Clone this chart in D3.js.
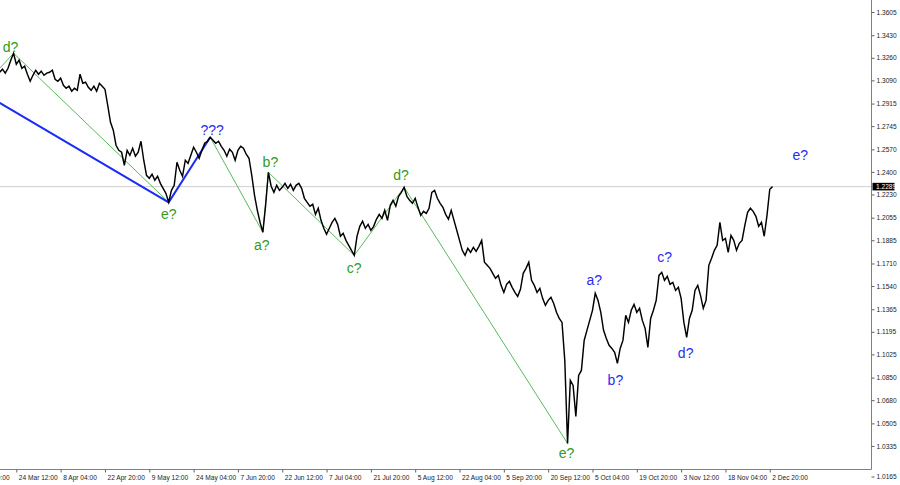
<!DOCTYPE html>
<html><head><meta charset="utf-8">
<script src="https://cdn.jsdelivr.net/npm/d3@7"></script>
<style>html,body{margin:0;padding:0;background:#fff;overflow:hidden}svg{display:block}</style>
</head><body><svg id="c" width="900" height="485"></svg>
<script>
// ---- data ----
const closes = [
1.3151,1.3174,1.3144,1.3181,1.3242,1.3294,1.3211,1.3242,1.3181,1.3196,
1.3136,1.3083,1.3128,1.3166,1.3136,1.3159,1.3128,1.3144,1.3151,1.3166,
1.3098,1.3083,1.3106,1.3053,1.3030,1.3046,1.3008,1.3030,1.3015,1.3136,
1.3068,1.3076,1.3038,1.3015,1.3046,1.3008,1.3068,1.3046,1.3023,1.2902,
1.2774,1.2714,1.2601,1.2563,1.2548,1.2450,1.2563,1.2525,1.2578,1.2518,
1.2548,1.2631,1.2488,1.2374,1.2352,1.2382,1.2337,1.2367,1.2314,1.2276,
1.2239,1.2171,1.2261,1.2299,1.2473,1.2412,1.2367,1.2488,1.2465,1.2525,
1.2586,1.2548,1.2503,1.2563,1.2616,1.2631,1.2661,1.2638,1.2616,1.2631,
1.2593,1.2563,1.2518,1.2571,1.2548,1.2488,1.2563,1.2593,1.2578,1.2533,
1.2503,1.2374,1.2224,1.2111,1.2020,1.1945,1.2148,1.2397,1.2292,1.2246,
1.2299,1.2261,1.2284,1.2314,1.2276,1.2307,1.2261,1.2299,1.2314,1.2276,
1.2201,1.2171,1.2141,1.2156,1.2080,1.2126,1.2035,1.1975,1.1930,1.1975,
1.2020,1.2050,1.2005,1.1915,1.1937,1.1884,1.1847,1.1809,1.1771,1.1915,
1.1990,1.2028,1.1975,1.2005,1.1960,1.1990,1.2043,1.2080,1.2050,1.2111,
1.2035,1.2148,1.2186,1.2141,1.2216,1.2246,1.2284,1.2216,1.2186,1.2163,
1.2201,1.2133,1.2073,1.2103,1.2088,1.2126,1.2246,1.2261,1.2201,1.2163,
1.2133,1.2080,1.2043,1.2111,1.2035,1.1960,1.1884,1.1809,1.1771,1.1824,
1.1794,1.1832,1.1801,1.1839,1.1884,1.1719,1.1696,1.1673,1.1636,1.1598,
1.1620,1.1545,1.1492,1.1553,1.1575,1.1530,1.1492,1.1462,1.1515,1.1636,
1.1673,1.1719,1.1583,1.1545,1.1492,1.1522,1.1447,1.1394,1.1432,1.1455,
1.1409,1.1342,1.1296,1.1266,1.0980,1.0354,1.0829,1.0791,1.0557,1.0866,
1.0904,1.1130,1.1206,1.1281,1.1357,1.1485,1.1432,1.1342,1.1206,1.1145,
1.1093,1.1070,1.1040,1.0957,1.1070,1.1130,1.1319,1.1266,1.1357,1.1402,
1.1342,1.1372,1.1281,1.1221,1.1078,1.1296,1.1357,1.1432,1.1620,1.1643,
1.1583,1.1613,1.1553,1.1568,1.1507,1.1530,1.1447,1.1266,1.1153,1.1296,
1.1357,1.1507,1.1545,1.1470,1.1372,1.1432,1.1696,1.1749,1.1809,1.1847,
1.2020,1.1884,1.1899,1.1794,1.1922,1.1884,1.1809,1.1862,1.1884,1.1997,
1.2096,1.2126,1.2103,1.2065,1.1990,1.2020,1.1915,1.2073,1.2269,1.2289
];
const priceTickLabels = ["1.3605","1.3430","1.3260","1.3090","1.2915","1.2745","1.2570","1.2400","1.2230","1.2055","1.1885","1.1710","1.1540","1.1365","1.1195","1.1025","1.0850","1.0680","1.0505","1.0335","1.0165"];
const timeTickLabels = ["9 Mar 20:00","24 Mar 12:00","8 Apr 04:00","22 Apr 20:00","9 May 12:00","24 May 04:00","7 Jun 20:00","22 Jun 12:00","7 Jul 04:00","21 Jul 20:00","5 Aug 12:00","22 Aug 04:00","5 Sep 20:00","20 Sep 12:00","5 Oct 04:00","19 Oct 20:00","3 Nov 12:00","18 Nov 04:00","2 Dec 20:00"];
const barsPerTimeTick = 64;
const firstSampleBar = 40;
const barsPerSample = 4;
const lastPrice = 1.2289;

// wave pivots (sample index; price from closes unless given)
const greenWaveA = [{idx:0, price:1.3181}, {idx:5}, {idx:61}];
const blueWave   = [{idx:0, price:1.2920}, {idx:61}, {idx:76}];
const greenWaveB = [{idx:76}, {idx:95}, {idx:97}, {idx:128}, {idx:146}, {idx:205}];

const waveLabelText  = ["d?","e?","???","a?","b?","c?","d?","e?","a?","b?","c?","d?","e?","?"];
const waveLabelIdx   = [5, 61, 76, 95, 97, 128, 146, 205, 215, 223, 239, 248, 289, 0];
const waveLabelPrice = [null,null,null,null,null,null,null,null,null,null,null,null,1.2488,1.2975];
const waveLabelGroup = ["g","g","b","g","g","g","g","g","b","b","b","b","b","t"];

// ---- drawing ----
const svg = d3.select("#c");
const plotR = 871, plotB = 469;
const x = d3.scaleLinear().domain([0, barsPerTimeTick]).range([-28, 16.32]);
const y = d3.scaleLinear().domain([1.0165, 1.3605]).range([468.5, 12]);
const sx = i => x(firstSampleBar + barsPerSample * i);

const colors = {g:"#329a22", b:"#2b2bf0", t:"#14a8a8"};
const font = "'Liberation Sans', Arial, sans-serif";

const clip = svg.append("defs").append("clipPath").attr("id","pc");
clip.append("rect").attr("x",0).attr("y",0).attr("width",plotR).attr("height",plotB);
const plot = svg.append("g").attr("clip-path","url(#pc)");

// last price line
plot.append("line").attr("x1",0).attr("x2",plotR)
  .attr("y1",y(lastPrice)).attr("y2",y(lastPrice))
  .attr("stroke","#cfcfcf").attr("stroke-width",1);

const pv = d => d.price !== undefined ? d.price : closes[d.idx];
const wline = d3.line().x(d => sx(d.idx)).y(d => y(pv(d)));

plot.append("path").datum(greenWaveA).attr("d",wline).attr("fill","none").attr("stroke","#5cb85c").attr("stroke-width",1);
plot.append("path").datum(greenWaveB).attr("d",wline).attr("fill","none").attr("stroke","#5cb85c").attr("stroke-width",1);
plot.append("path").datum(blueWave).attr("d",wline).attr("fill","none").attr("stroke","#1a2cf5").attr("stroke-width",2);

// price line
plot.append("path").datum(closes)
  .attr("d", d3.line().x((d,i)=>sx(i)).y(d=>y(d)))
  .attr("fill","none").attr("stroke","#000").attr("stroke-width",1.45).attr("stroke-linejoin","miter");

// wave labels
const labelOffsets = [[-3,-1],[0,17],[2,-2],[-1,18],[2,-5],[0,18],[-3,-7],[-1,15],[-1,-8],[-2,22],[3,-10],[-1,21],[0,0],[-4,0]];
const lbl = waveLabelText.map((t,k)=>({t, idx:waveLabelIdx[k], price:waveLabelPrice[k], g:waveLabelGroup[k], o:labelOffsets[k]}));
svg.append("g").selectAll("text").data(lbl).join("text")
  .attr("x", d => sx(d.idx) + d.o[0])
  .attr("y", d => y(d.price != null ? d.price : closes[d.idx]) + d.o[1])
  .attr("text-anchor","middle")
  .attr("font-family",font).attr("font-size",14)
  .attr("fill", d => colors[d.g])
  .text(d => d.t);

// axes frame
svg.append("line").attr("x1",plotR+0.5).attr("x2",plotR+0.5).attr("y1",0).attr("y2",plotB+0.5).attr("stroke","#808080");
svg.append("line").attr("x1",0).attr("x2",plotR+0.5).attr("y1",plotB+0.5).attr("y2",plotB+0.5).attr("stroke","#808080");

// price axis
const pAxis = d3.axisRight(y).tickValues(priceTickLabels.map(Number))
  .tickFormat((d,i)=>priceTickLabels[i]).tickSize(3).tickSizeOuter(0).tickPadding(2);
const pg = svg.append("g").attr("transform",`translate(${plotR+0.5},0)`).call(pAxis);
pg.select(".domain").remove();
pg.selectAll(".tick").filter((d,i)=>i===priceTickLabels.length-1)
  .attr("transform",`translate(0,${y(1.0165)+8.5})`);
pg.selectAll(".tick line").attr("stroke","#606060");
pg.selectAll(".tick text").attr("font-family",font).attr("font-size",6.6).attr("fill","#222");

// last price box
const lp = svg.append("g");
lp.append("rect").attr("x",plotR+1.5).attr("y",y(lastPrice)-3.8).attr("width",22).attr("height",7.6).attr("fill","#000");
lp.append("text").attr("x",plotR+5).attr("y",y(lastPrice)+2.3).attr("font-family",font).attr("font-size",6.6).attr("fill","#fff").text(lastPrice.toFixed(4));

// time axis
const tAxis = d3.axisBottom(x).tickValues(timeTickLabels.map((_,k)=>k*barsPerTimeTick))
  .tickFormat((d,i)=>timeTickLabels[i]).tickSize(3).tickSizeOuter(0).tickPadding(3);
const tg = svg.append("g").attr("transform",`translate(0,${plotB+0.5})`).call(tAxis);
tg.select(".domain").remove();
tg.selectAll(".tick line").attr("stroke","#606060");
tg.selectAll(".tick text").attr("font-family",font).attr("font-size",6.6).attr("fill","#222")
  .attr("text-anchor","start").attr("dx",2);
</script>
</body></html>
